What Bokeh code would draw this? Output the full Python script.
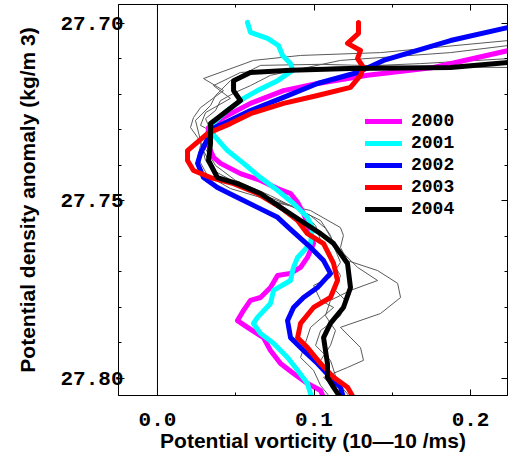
from bokeh.plotting import figure
from bokeh.models import (Range1d, LinearAxis, FixedTicker, Span, Legend, LegendItem,
                          NumeralTickFormatter)
from bokeh.embed import file_html
from bokeh.resources import INLINE

# ---------------- data (potential vorticity vs potential density anomaly) -------------
years = ["2000", "2001", "2002", "2003", "2004"]
colors = ["#ff00ff", "#00ffff", "#0000ff", "#ff0000", "#000000"]

dens_2000 = [27.7076, 27.7124, 27.7146, 27.7169, 27.7189, 27.7225, 27.7265, 27.7293, 27.7338,
             27.7377, 27.7394, 27.7423, 27.7442, 27.7465, 27.7479, 27.7504, 27.7535, 27.7563,
             27.7620, 27.7659, 27.7687, 27.7704, 27.7710, 27.7744, 27.7772, 27.7780, 27.7808,
             27.7837, 27.7856, 27.7885, 27.7921, 27.7958, 27.7986, 27.8014, 27.8034, 27.8054]
pv_2000 = [0.2243, 0.1764, 0.1342, 0.1022, 0.0805, 0.0594, 0.0422, 0.0326, 0.0319,
           0.0358, 0.0403, 0.0530, 0.0658, 0.0767, 0.0850, 0.0895, 0.0933, 0.0958,
           0.0997, 0.0958, 0.0914, 0.0850, 0.0767, 0.0722, 0.0658, 0.0594, 0.0550,
           0.0511, 0.0575, 0.0677, 0.0722, 0.0786, 0.0869, 0.0958, 0.1042, 0.1061]

dens_2001 = [27.6997, 27.7025, 27.7042, 27.7062, 27.7090, 27.7113, 27.7132, 27.7161, 27.7189,
             27.7211, 27.7245, 27.7287, 27.7310, 27.7358, 27.7394, 27.7434, 27.7470, 27.7507,
             27.7546, 27.7575, 27.7620, 27.7659, 27.7687, 27.7724, 27.7752, 27.7789, 27.7828,
             27.7845, 27.7873, 27.7901, 27.7941, 27.7977, 27.8014, 27.8054]
pv_2001 = [0.0575, 0.0594, 0.0703, 0.0773, 0.0799, 0.0850, 0.0863, 0.0767, 0.0639,
           0.0550, 0.0447, 0.0339, 0.0351, 0.0447, 0.0550, 0.0658, 0.0767, 0.0869,
           0.0958, 0.0990, 0.0978, 0.0895, 0.0869, 0.0850, 0.0741, 0.0722, 0.0639,
           0.0613, 0.0658, 0.0741, 0.0831, 0.0895, 0.0958, 0.0985]

dens_2002 = [27.7011, 27.7048, 27.7104, 27.7138, 27.7169, 27.7208, 27.7245, 27.7282, 27.7296,
             27.7366, 27.7394, 27.7434, 27.7462, 27.7490, 27.7518, 27.7546, 27.7580, 27.7631,
             27.7668, 27.7704, 27.7744, 27.7772, 27.7800, 27.7837, 27.7885, 27.7921, 27.7958,
             27.7997, 27.8025, 27.8054]
pv_2002 = [0.2243, 0.1872, 0.1444, 0.1278, 0.1022, 0.0805, 0.0594, 0.0422, 0.0351,
           0.0275, 0.0256, 0.0294, 0.0383, 0.0511, 0.0639, 0.0767, 0.0850, 0.0978,
           0.1061, 0.1105, 0.1022, 0.0933, 0.0869, 0.0831, 0.0850, 0.0933, 0.1022,
           0.1105, 0.1169, 0.1188]

dens_2003 = [27.6997, 27.7028, 27.7056, 27.7076, 27.7099, 27.7124, 27.7146, 27.7180, 27.7203,
             27.7225, 27.7254, 27.7282, 27.7310, 27.7358, 27.7386, 27.7414, 27.7434, 27.7451,
             27.7479, 27.7518, 27.7555, 27.7592, 27.7620, 27.7676, 27.7724, 27.7772, 27.7800,
             27.7845, 27.7885, 27.7913, 27.7958, 27.7997, 27.8025, 27.8054]
pv_2003 = [0.1284, 0.1284, 0.1214, 0.1297, 0.1278, 0.1316, 0.1297, 0.1233, 0.1022,
           0.0805, 0.0594, 0.0466, 0.0319, 0.0192, 0.0192, 0.0230, 0.0339, 0.0486,
           0.0639, 0.0786, 0.0895, 0.0958, 0.1061, 0.1125, 0.1150, 0.1105, 0.0997,
           0.0914, 0.0895, 0.0958, 0.1042, 0.1125, 0.1214, 0.1252]

dens_2004 = [27.7110, 27.7124, 27.7127, 27.7132, 27.7138, 27.7161, 27.7189, 27.7217, 27.7245,
             27.7282, 27.7338, 27.7386, 27.7434, 27.7451, 27.7479, 27.7518, 27.7555, 27.7592,
             27.7620, 27.7676, 27.7744, 27.7800, 27.7845, 27.7885, 27.7958, 27.7997, 27.8025,
             27.8054]
pv_2004 = [0.2243, 0.1872, 0.1233, 0.0850, 0.0594, 0.0486, 0.0486, 0.0530, 0.0447,
           0.0339, 0.0339, 0.0326, 0.0383, 0.0511, 0.0658, 0.0786, 0.0914, 0.1042,
           0.1125, 0.1214, 0.1233, 0.1188, 0.1105, 0.1061, 0.1086, 0.1086, 0.1125,
           0.1169]

# individual (thin grey) profiles
dens_g1 = [27.7048, 27.7082, 27.7090, 27.7104, 27.7155, 27.7189, 27.7237, 27.7265, 27.7293,
           27.7321, 27.7358, 27.7414, 27.7456, 27.7499, 27.7527, 27.7575, 27.7597, 27.7631,
           27.7668, 27.7696, 27.7732, 27.7772, 27.7817, 27.7856, 27.7913, 27.7949, 27.7969,
           27.7997, 27.8042, 27.8054]
pv_g1 = [0.2243, 0.1425, 0.0914, 0.0613, 0.0294, 0.0422, 0.0275, 0.0230, 0.0211,
         0.0256, 0.0294, 0.0358, 0.0530, 0.0703, 0.0978, 0.1169, 0.1188, 0.1169,
         0.1214, 0.1406, 0.1534, 0.1553, 0.1425, 0.1169, 0.1297, 0.1316, 0.1214,
         0.1061, 0.1169, 0.1201]

dens_g2 = [27.7099, 27.7113, 27.7127, 27.7138, 27.7175, 27.7211, 27.7251, 27.7287, 27.7310,
           27.7344, 27.7377, 27.7428, 27.7465, 27.7490, 27.7513, 27.7555, 27.7597, 27.7639,
           27.7673, 27.7715, 27.7738, 27.7780, 27.7800, 27.7856, 27.7941, 27.7977, 27.8020,
           27.8054]
pv_g2 = [0.2243, 0.1681, 0.0914, 0.0530, 0.0358, 0.0466, 0.0307, 0.0275, 0.0371,
         0.0275, 0.0256, 0.0319, 0.0466, 0.0658, 0.0850, 0.1042, 0.1105, 0.1137,
         0.1169, 0.1105, 0.0997, 0.1042, 0.1125, 0.0978, 0.0914, 0.0997, 0.1042,
         0.1105]

dens_g3 = [27.7124, 27.7121, 27.7115, 27.7118, 27.7161, 27.7203, 27.7231, 27.7273, 27.7330,
           27.7386, 27.7437, 27.7470, 27.7507, 27.7541, 27.7577, 27.7625, 27.7687, 27.7724,
           27.7752, 27.7780, 27.7823, 27.7865, 27.7907, 27.7949, 27.7992, 27.8034, 27.8054]
pv_g3 = [0.2243, 0.1553, 0.1042, 0.0658, 0.0466, 0.0371, 0.0339, 0.0243, 0.0275,
         0.0307, 0.0403, 0.0594, 0.0818, 0.0978, 0.1073, 0.1137, 0.1278, 0.1406,
         0.1233, 0.1105, 0.1073, 0.1137, 0.1105, 0.1042, 0.1105, 0.1150, 0.1169]

dens_g4 = [27.7062, 27.7082, 27.7104, 27.7146, 27.7175, 27.7194, 27.7217, 27.7245, 27.7268,
           27.7301, 27.7344, 27.7400, 27.7442, 27.7485, 27.7527, 27.7569, 27.7611, 27.7662,
           27.7710, 27.7752, 27.7780, 27.7823, 27.7865, 27.7907, 27.7949, 27.7992, 27.8020,
           27.8054]
pv_g4 = [0.2243, 0.1872, 0.1169, 0.0722, 0.0594, 0.0498, 0.0403, 0.0371, 0.0307,
         0.0339, 0.0294, 0.0371, 0.0498, 0.0722, 0.0914, 0.1010, 0.1042, 0.1105,
         0.1169, 0.1137, 0.1201, 0.1169, 0.1042, 0.1010, 0.1105, 0.1137, 0.1169,
         0.1233]

x_ticks = [0.0, 0.1, 0.2]
x_minor = [0.05, 0.15]
y_ticks = [27.70, 27.75, 27.80]
y_minor = [27.71, 27.72, 27.73, 27.74, 27.76, 27.77, 27.78, 27.79]

# ---------------- figure ----------------
p = figure(width=508, height=465, output_backend="svg", toolbar_location=None,
           x_range=Range1d(-0.0249, 0.2236), y_range=Range1d(27.8048, 27.69465),
           min_border_left=118, min_border_right=1, min_border_top=4, min_border_bottom=70,
           x_axis_location=None, y_axis_location=None)
p.xgrid.visible = False
p.ygrid.visible = False
p.outline_line_color = "black"
p.outline_line_width = 1
p.background_fill_color = "white"
p.border_fill_color = "white"

tick_font = "Liberation Mono"

def style_axis(ax):
    ax.axis_line_color = "black"
    ax.major_tick_in = 6
    ax.major_tick_out = 0
    ax.minor_tick_in = 3
    ax.minor_tick_out = 0
    ax.major_tick_line_color = "black"
    ax.minor_tick_line_color = "black"
    ax.major_label_text_font = tick_font
    ax.major_label_text_font_style = "bold"
    ax.major_label_text_font_size = "21px"
    ax.major_label_text_color = "black"
    ax.axis_label_text_color = "black"

xb = LinearAxis(ticker=FixedTicker(ticks=x_ticks, minor_ticks=x_minor),
                formatter=NumeralTickFormatter(format="0.0"))
style_axis(xb)
xb.major_label_standoff = 17
xb.axis_label = "Potential vorticity (10\u201410 /ms)"
xb.axis_label_text_font = "Liberation Sans"
xb.axis_label_text_font_style = "bold"
xb.axis_label_text_font_size = "21px"
xb.axis_label_standoff = 0
p.add_layout(xb, "below")

yl = LinearAxis(ticker=FixedTicker(ticks=y_ticks, minor_ticks=y_minor),
                formatter=NumeralTickFormatter(format="0.00"))
style_axis(yl)
yl.major_label_standoff = -5
yl.axis_label = "Potential density anomaly (kg/m 3)"
yl.axis_label_text_font = "Liberation Sans"
yl.axis_label_text_font_style = "bold"
yl.axis_label_text_font_size = "21px"
yl.axis_label_standoff = 18
p.add_layout(yl, "left")

xt = LinearAxis(ticker=FixedTicker(ticks=x_ticks, minor_ticks=x_minor))
style_axis(xt)
xt.major_label_overrides = {t: "" for t in x_ticks}
xt.major_label_text_font_size = "1px"
xt.major_label_standoff = 0
p.add_layout(xt, "above")

yr = LinearAxis(ticker=FixedTicker(ticks=y_ticks, minor_ticks=y_minor))
style_axis(yr)
yr.major_label_overrides = {t: "" for t in y_ticks}
yr.major_label_text_font_size = "1px"
yr.major_label_standoff = 0
p.add_layout(yr, "right")

p.add_layout(Span(location=0, dimension="height", line_color="black", line_width=1))

for d, v in [(dens_g1, pv_g1), (dens_g2, pv_g2), (dens_g3, pv_g3), (dens_g4, pv_g4)]:
    p.line(v, d, line_color="#5a5a5a", line_width=1)

series = [(dens_2000, pv_2000), (dens_2001, pv_2001), (dens_2002, pv_2002),
          (dens_2003, pv_2003), (dens_2004, pv_2004)]
items = []
for (d, v), yr_lab, c in zip(series, years, colors):
    r = p.line(v, d, line_color=c, line_width=5, line_join="round", line_cap="round")
    items.append(LegendItem(label=yr_lab, renderers=[r]))

legend = Legend(items=items, location=(247, 176), padding=0, margin=0, spacing=2,
                glyph_width=37, glyph_height=20, label_height=20, label_standoff=9,
                border_line_color=None, background_fill_alpha=0,
                label_text_font=tick_font, label_text_font_style="bold",
                label_text_font_size="18px", label_text_color="black")
p.add_layout(legend, "center")

open("out.html", "w").write(file_html(p, INLINE))
